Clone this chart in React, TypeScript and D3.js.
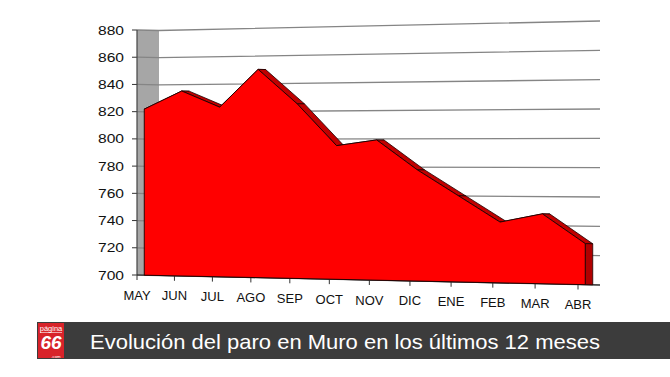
import React from "react";
import * as d3 from "d3";

const months = ["MAY", "JUN", "JUL", "AGO", "SEP", "OCT", "NOV", "DIC", "ENE", "FEB", "MAR", "ABR"];
const paro = [822, 835, 823, 850, 825, 795, 799, 778, 760, 742, 748, 728];
const yTicks = [700, 720, 740, 760, 780, 800, 820, 840, 860, 880];
const title = "Evolución del paro en Muro en los últimos 12 meses";

const W = 670;
const H = 377;
const FONT = "Liberation Sans, Arial, sans-serif";

// front plane corners (unit square -> screen), perspective homography
function makeHomography(p00: number[], p10: number[], p11: number[], p01: number[]) {
  const [x0, y0] = p00, [x1, y1] = p10, [x2, y2] = p11, [x3, y3] = p01;
  const dx1 = x1 - x2, dx2 = x3 - x2, dx3 = x0 - x1 + x2 - x3;
  const dy1 = y1 - y2, dy2 = y3 - y2, dy3 = y0 - y1 + y2 - y3;
  const den = dx1 * dy2 - dx2 * dy1;
  const g = (dx3 * dy2 - dx2 * dy3) / den;
  const h = (dx1 * dy3 - dx3 * dy1) / den;
  const a = x1 - x0 + g * x1, b = x3 - x0 + h * x3, c = x0;
  const d = y1 - y0 + g * y1, e = y3 - y0 + h * y3, f = y0;
  return (u: number, t: number) => {
    const w = g * u + h * t + 1;
    return [(a * u + b * t + c) / w, (d * u + e * t + f) / w];
  };
}

const front = makeHomography([137, 275], [578, 284.5], [578, 20.5], [137, 30]);
const DEPTH: [number, number] = [22, 0.5];

const xScale = d3.scalePoint<string>().domain(months).range([0, 1]);
const yScale = d3.scaleLinear().domain([700, 880]).range([0, 1]);

function proj(u: number, v: number, dz: number): [number, number] {
  const [x, y] = front(u, yScale(v));
  return [x + dz * DEPTH[0], y + dz * DEPTH[1]];
}

const pts = (arr: [number, number][]) => arr.map((p) => p.join(",")).join(" ");

export default function App() {
  const d0 = 0.33;
  const d1 = 0.67;
  const us = months.map((m) => xScale(m) as number);
  const lastU = us[us.length - 1];
  const lastV = paro[paro.length - 1];

  const wall = [proj(0, 700, 0), proj(0, 880, 0), proj(0, 880, 1), proj(0, 700, 1)];

  const ribbons = paro.slice(0, -1).map((v, i) => [
    proj(us[i], v, d0),
    proj(us[i + 1], paro[i + 1], d0),
    proj(us[i + 1], paro[i + 1], d1),
    proj(us[i], v, d1),
  ]);

  const endFace = [proj(lastU, 700, d0), proj(lastU, lastV, d0), proj(lastU, lastV, d1), proj(lastU, 700, d1)];

  const frontFace = [
    ...paro.map((v, i) => proj(us[i], v, d0)),
    proj(lastU, 700, d0),
    proj(0, 700, d0),
  ];

  const lineGen = d3.line<[number, number]>();

  return (
    <svg width={W} height={H} style={{ position: "absolute", left: 0, top: 0, background: "#fff" }}>
      <rect x={0} y={0} width={W} height={H} fill="#fff" />
      {/* left wall */}
      <polygon points={pts(wall)} fill="#a6a6a6" />
      {/* gridlines */}
      {yTicks.map((v) => (
        <g key={v}>
          <path d={lineGen([proj(0, v, 0), proj(0, v, 1), proj(1, v, 1)]) as string} fill="none" stroke="#858585" strokeWidth={1.3} />
          <line x1={proj(0, v, 0)[0] - 5} y1={proj(0, v, 0)[1]} x2={proj(0, v, 0)[0]} y2={proj(0, v, 0)[1]} stroke="#333" strokeWidth={1} />
          <text x={proj(0, v, 0)[0] - 13} y={proj(0, v, 0)[1]} textAnchor="end" dominantBaseline="central" fontFamily={FONT} fontSize={13.5} fill="#111" textLength={26} lengthAdjust="spacingAndGlyphs">
            {v}
          </text>
        </g>
      ))}
      {/* y axis */}
      <line x1={proj(0, 700, 0)[0]} y1={proj(0, 700, 0)[1]} x2={proj(0, 880, 0)[0]} y2={proj(0, 880, 0)[1]} stroke="#444" strokeWidth={1.2} />
      {/* floor edges */}
      <path d={lineGen([proj(0, 700, 0), proj(1, 700, 0), proj(1, 700, 1)]) as string} fill="none" stroke="#222" strokeWidth={1.2} />
      {/* x ticks and labels */}
      {months.map((m, i) => {
        const [x, y] = proj(us[i], 700, 0);
        return (
          <g key={m}>
            <line x1={x} y1={y} x2={x} y2={y + 5} stroke="#333" strokeWidth={1} />
            <text x={x} y={y + 20} textAnchor="middle" dominantBaseline="central" fontFamily={FONT} fontSize={13} fill="#111">
              {m}
            </text>
          </g>
        );
      })}
      {/* area ribbons */}
      {ribbons.map((r, i) => (
        <polygon key={i} points={pts(r)} fill="#c00000" stroke="#1a0000" strokeWidth={0.8} strokeLinejoin="round" />
      ))}
      <polygon points={pts(endFace)} fill="#b00000" stroke="#1a0000" strokeWidth={0.8} />
      <polygon points={pts(frontFace)} fill="#ff0000" stroke="#1a0000" strokeWidth={0.9} strokeLinejoin="round" />

      {/* banner */}
      <rect x={37} y={322} width={W - 37} height={37} fill="#3c3c3c" />
      <rect x={38} y={323} width={26} height={35} fill="#d8232a" />
      <text x={51} y={330.5} textAnchor="middle" fontFamily={FONT} fontSize={7.5} fill="#fff">página</text>
      <line x1={40} y1={332.5} x2={62} y2={332.5} stroke="#fff" strokeWidth={0.6} />
      <text x={51} y={349} textAnchor="middle" fontFamily={FONT} fontSize={19} fontWeight="bold" fontStyle="italic" fill="#fff">66</text>
      <text x={56} y={357.8} textAnchor="middle" fontFamily={FONT} fontSize={4.3} fill="#fff">.com</text>
      <text x={90} y={348.5} fontFamily={FONT} fontSize={21} fill="#fff" textLength={510} lengthAdjust="spacingAndGlyphs">
        {title}
      </text>
    </svg>
  );
}
